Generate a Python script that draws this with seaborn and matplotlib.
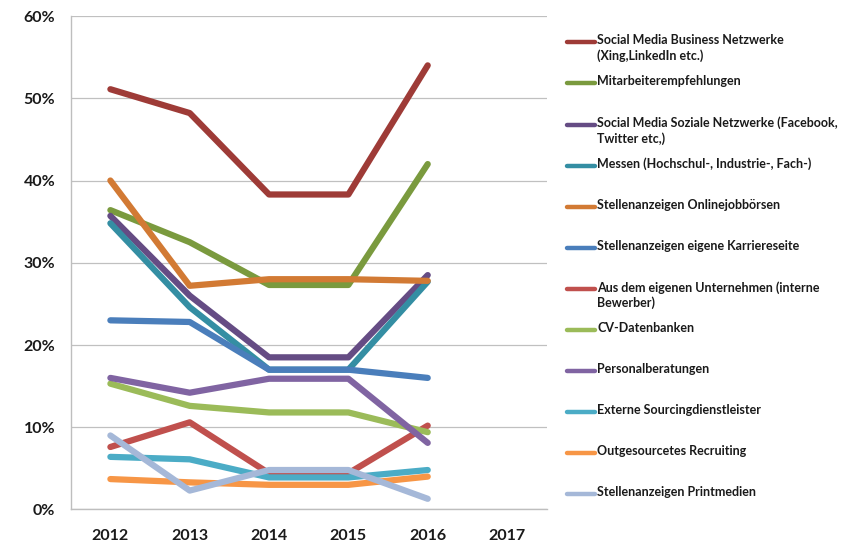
import matplotlib
matplotlib.use("Agg")
import matplotlib.pyplot as plt
import pandas as pd
import seaborn as sns
from matplotlib.lines import Line2D
from matplotlib.ticker import FuncFormatter, FixedLocator

# Data (percent values)
years = [2012, 2013, 2014, 2015, 2016]
all_years = [2012, 2013, 2014, 2015, 2016, 2017]

series_names = [
    "Social Media Business Netzwerke\n(Xing,LinkedIn etc.)",
    "Mitarbeiterempfehlungen",
    "Social Media Soziale Netzwerke (Facebook,\nTwitter etc,)",
    "Messen (Hochschul-, Industrie-, Fach-)",
    "Stellenanzeigen Onlinejobbörsen",
    "Stellenanzeigen eigene Karriereseite",
    "Aus dem eigenen Unternehmen (interne\nBewerber)",
    "CV-Datenbanken",
    "Personalberatungen",
    "Externe Sourcingdienstleister",
    "Outgesourcetes Recruiting",
    "Stellenanzeigen Printmedien",
]

business = [51.1, 48.2, 38.3, 38.3, 54.0]
mitarbeiter = [36.4, 32.5, 27.3, 27.3, 42.0]
soziale = [35.7, 26.0, 18.5, 18.5, 28.5]
messen = [34.8, 24.6, 17.0, 17.0, 27.7]
online = [40.0, 27.2, 28.0, 28.0, 27.8]
karriere = [23.0, 22.8, 17.0, 17.0, 16.0]
intern = [7.6, 10.6, 4.4, 4.4, 10.2]
cv = [15.3, 12.6, 11.8, 11.8, 9.4]
personal = [16.0, 14.2, 15.9, 15.9, 8.1]
extern = [6.4, 6.1, 3.9, 3.9, 4.8]
outsourced = [3.7, 3.3, 3.0, 3.0, 4.0]
print_medien = [9.0, 2.3, 4.8, 4.8, 1.3]

colors = ["#9E3B37", "#7A9A3E", "#654C84", "#348EA3", "#D27A34", "#4A7EBB",
          "#C0504D", "#9BBB59", "#8064A2", "#4BACC6", "#F79646", "#A5B8D8"]

values = [business, mitarbeiter, soziale, messen, online, karriere,
          intern, cv, personal, extern, outsourced, print_medien]

rows = []
for name, vals in zip(series_names, values):
    for y, v in zip(years, vals):
        rows.append({"Jahr": y, "Anteil": v, "Kanal": name})
df = pd.DataFrame(rows)

sns.set_style("white")
plt.rcParams["font.family"] = ["Lato", "DejaVu Sans"]

fig = plt.figure(figsize=(8.52, 5.43), dpi=100)
ax = fig.add_axes([0.083, 0.0617, 0.5587, 0.9088])

sns.lineplot(data=df, x="Jahr", y="Anteil", hue="Kanal", hue_order=series_names,
             palette=dict(zip(series_names, colors)), linewidth=4.5,
             solid_capstyle="round", solid_joinstyle="round", ax=ax, legend=False)

ax.set_xlim(2011.5, 2017.5)
ax.set_ylim(0, 60)
ax.set_xticks(all_years)
ax.set_xticklabels([str(y) for y in all_years])
ax.xaxis.set_minor_locator(FixedLocator([y - 0.5 for y in all_years] + [2017.5]))
ax.set_yticks([0, 10, 20, 30, 40, 50, 60])
ax.yaxis.set_major_formatter(FuncFormatter(lambda v, p: f"{v:.0f}%"))
ax.set_xlabel("")
ax.set_ylabel("")

ax.grid(axis="y", color="#C0C0C0", linewidth=0.9)
ax.set_axisbelow(True)
for s in ["top", "right"]:
    ax.spines[s].set_visible(False)
for s in ["left", "bottom"]:
    ax.spines[s].set_color("#BEBEBE")
    ax.spines[s].set_linewidth(1.0)

ax.tick_params(axis="x", which="major", length=0, pad=14, labelsize=11.5)
ax.tick_params(axis="x", which="minor", length=5, color="#BEBEBE", width=1, direction="out")
ax.tick_params(axis="y", which="major", length=5, color="#BEBEBE", width=1, direction="out",
               pad=6, labelsize=11.5)
for lab in ax.get_xticklabels() + ax.get_yticklabels():
    lab.set_fontweight("bold")
    lab.set_color("#1A1A1A")

# Legend drawn at the right side
W, H = 852, 543
for i, (name, c) in enumerate(zip(series_names, colors)):
    yy = 42.3 + i * 41.1
    fig.add_artist(Line2D([567 / W, 595 / W], [1 - yy / H, 1 - yy / H], color=c,
                          linewidth=3.2, solid_capstyle="round", transform=fig.transFigure))
    fig.text(597 / W, 1 - (yy - 8) / H, name, fontsize=9, fontweight="bold",
             color="#1A1A1A", va="top", ha="left", linespacing=1.3)

fig.savefig("out.png", dpi=100)
